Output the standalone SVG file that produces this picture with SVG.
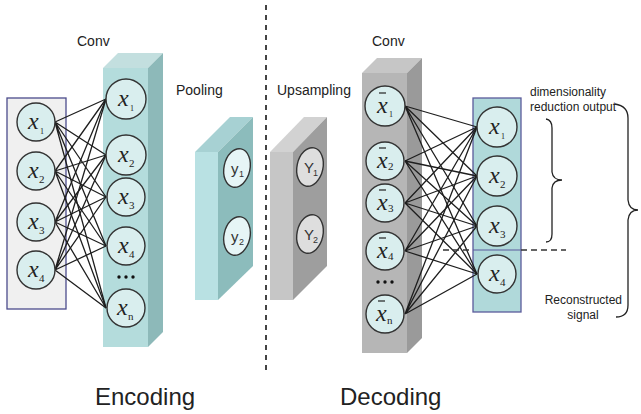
<svg xmlns="http://www.w3.org/2000/svg" width="641" height="414" viewBox="0 0 641 414">
<defs>
<style>
.lbl{font-family:"Liberation Sans",Arial,sans-serif;fill:#222}
.big{font-size:24px}
.sm{font-size:12px}
.md{font-size:14px}
.nd{fill:#d9eeee;stroke:#333;stroke-width:1.4}
.xv{font-family:"Liberation Serif","Times New Roman",serif;font-style:italic;font-size:24px;fill:#222}
.sb{font-family:"Liberation Serif",serif;font-size:11px;fill:#222}
.sb1{font-family:"Liberation Serif",serif;font-size:8px;fill:#222}
.yv{font-family:"Liberation Sans",sans-serif;font-size:15px;fill:#333}
.ys{font-family:"Liberation Sans",sans-serif;font-size:9px;fill:#333}
.bar{stroke:#222;stroke-width:1.2}
.cn{stroke:#1e1e1e;stroke-width:1.3;fill:none}
.dot{fill:#111}
.brace{fill:none;stroke:#222;stroke-width:1.3}
</style>
</defs>
<rect width="641" height="414" fill="#ffffff"/>

<!-- divider -->
<line x1="266" y1="5" x2="266" y2="373" stroke="#444" stroke-width="2" stroke-dasharray="5 5"/>

<!-- input box -->
<g id="input-layer">
<rect x="7" y="98" width="59" height="211" fill="#f0f0f0" stroke="#4c4c8c" stroke-width="1.3"/>
</g>

<!-- encoder conv block -->
<g id="enc-conv-block">
<polygon points="103,68 118,53 163,53 148,68" fill="#c3dfdf"/>
<polygon points="148,68 163,53 163,332 148,347" fill="#8db9b9"/>
<rect x="103" y="68" width="45" height="279" fill="#b4dcdc"/>
</g>

<!-- decoder conv block -->
<g id="dec-conv-block">
<polygon points="362,73 377,58 422,58 407,73" fill="#c6c6c6"/>
<polygon points="407,73 422,58 422,338 407,353" fill="#9a9a9a"/>
<rect x="362" y="73" width="45" height="280" fill="#b6b6b6"/>
</g>

<!-- output box -->
<g id="output-layer">
<rect x="473" y="98" width="48" height="214" fill="#b0d9da" stroke="#5b5b9b" stroke-width="1.3"/>
<line x1="473" y1="250" x2="521" y2="250" stroke="#5b5b9b" stroke-width="1.2"/>
</g>

<!-- connectors -->
<g id="connectors">
<g class="cn">
<path d="M55,122L106,99M55,122L106,155M55,122L106,197M55,122L106,246M55,122L106,308"/>
<path d="M55,171L106,99M55,171L106,155M55,171L106,197M55,171L106,246M55,171L106,308"/>
<path d="M55,222L106,99M55,222L106,155M55,222L106,197M55,222L106,246M55,222L106,308"/>
<path d="M55,270L106,99M55,270L106,155M55,270L106,197M55,270L106,246M55,270L106,308"/>
<path d="M405,106L477,127M405,106L477,176M405,106L477,226M405,106L477,274"/>
<path d="M405,161L477,127M405,161L477,176M405,161L477,226M405,161L477,274"/>
<path d="M405,203L477,127M405,203L477,176M405,203L477,226M405,203L477,274"/>
<path d="M405,251L477,127M405,251L477,176M405,251L477,226M405,251L477,274"/>
<path d="M405,314L477,127M405,314L477,176M405,314L477,226M405,314L477,274"/>
</g>
<line x1="443" y1="250" x2="473" y2="250" stroke="#333" stroke-width="1.4" stroke-dasharray="6 4"/>
<line x1="521" y1="250" x2="566" y2="250" stroke="#333" stroke-width="1.4" stroke-dasharray="6 4"/>
</g>

<!-- input nodes -->
<g id="in-x1"><circle class="nd" cx="36" cy="122" r="19"/><text class="xv" x="28" y="129">x</text><text class="sb1" x="40" y="134">1</text></g>
<g id="in-x2"><circle class="nd" cx="36" cy="171" r="19"/><text class="xv" x="28" y="178">x</text><text class="sb" x="39" y="183">2</text></g>
<g id="in-x3"><circle class="nd" cx="36" cy="222" r="19"/><text class="xv" x="28" y="229">x</text><text class="sb" x="39" y="234">3</text></g>
<g id="in-x4"><circle class="nd" cx="36" cy="270" r="19"/><text class="xv" x="28" y="277">x</text><text class="sb" x="39" y="282">4</text></g>

<!-- encoder conv nodes -->
<g id="enc-x1"><circle class="nd" cx="126" cy="99" r="20"/><text class="xv" x="118" y="106">x</text><text class="sb1" x="130" y="111">1</text></g>
<g id="enc-x2"><circle class="nd" cx="126" cy="155" r="20"/><text class="xv" x="118" y="162">x</text><text class="sb" x="129" y="167">2</text></g>
<g id="enc-x3"><circle class="nd" cx="126" cy="197" r="19"/><text class="xv" x="118" y="204">x</text><text class="sb" x="129" y="209">3</text></g>
<g id="enc-x4"><circle class="nd" cx="126" cy="246" r="19"/><text class="xv" x="118" y="253">x</text><text class="sb" x="129" y="258">4</text></g>
<g id="enc-dots"><circle class="dot" cx="119" cy="277" r="1.7"/><circle class="dot" cx="126" cy="277" r="1.7"/><circle class="dot" cx="133" cy="277" r="1.7"/></g>
<g id="enc-xn"><circle class="nd" cx="126" cy="308" r="19"/><text class="xv" x="117" y="315">x</text><text class="sb" x="128" y="320">n</text></g>

<!-- pooling block -->
<g id="pooling">
<polygon points="195,152 230,117 253,117 218,152" fill="#a7d1d3"/>
<polygon points="218,152 253,117 253,266 218,300" fill="#8cbcbc"/>
<rect x="195" y="152" width="23" height="148" fill="#b9e1e3"/>
<ellipse cx="237" cy="168" rx="13" ry="19.5" transform="rotate(12 237 168)" fill="#e6f5f6" stroke="#333" stroke-width="1.4"/>
<text class="yv" x="231" y="174">y</text><text class="ys" x="239" y="177">1</text>
<ellipse cx="237" cy="236" rx="13" ry="19.5" transform="rotate(12 237 236)" fill="#e6f5f6" stroke="#333" stroke-width="1.4"/>
<text class="yv" x="231" y="242">y</text><text class="ys" x="239" y="245">2</text>
</g>

<!-- upsampling block -->
<g id="upsampling">
<polygon points="270,152 304,117 327,117 293,152" fill="#d2d2d2"/>
<polygon points="293,152 327,117 327,266 293,300" fill="#9e9e9e"/>
<rect x="270" y="152" width="23" height="148" fill="#c6c6c6"/>
<ellipse cx="310" cy="167" rx="13" ry="19.5" transform="rotate(12 310 167)" fill="#dedede" stroke="#333" stroke-width="1.4"/>
<text class="yv" x="304" y="173">Y</text><text class="ys" x="313" y="176">1</text>
<ellipse cx="310" cy="234" rx="13" ry="19.5" transform="rotate(12 310 234)" fill="#dedede" stroke="#333" stroke-width="1.4"/>
<text class="yv" x="304" y="240">Y</text><text class="ys" x="313" y="243">2</text>
</g>

<!-- decoder conv nodes -->
<g id="dec-x1"><circle class="nd" cx="385" cy="106" r="20"/><line class="bar" x1="379" y1="93" x2="386" y2="93"/><text class="xv" x="377" y="113">x</text><text class="sb1" x="389" y="117">1</text></g>
<g id="dec-x2"><circle class="nd" cx="385" cy="161" r="19"/><line class="bar" x1="379" y1="148" x2="386" y2="148"/><text class="xv" x="377" y="168">x</text><text class="sb" x="388" y="170">2</text></g>
<g id="dec-x3"><circle class="nd" cx="385" cy="203" r="19"/><line class="bar" x1="379" y1="190" x2="386" y2="190"/><text class="xv" x="377" y="210">x</text><text class="sb" x="388" y="212">3</text></g>
<g id="dec-x4"><circle class="nd" cx="385" cy="251" r="19"/><line class="bar" x1="379" y1="238" x2="386" y2="238"/><text class="xv" x="377" y="258">x</text><text class="sb" x="388" y="260">4</text></g>
<g id="dec-dots"><circle class="dot" cx="378" cy="282" r="1.7"/><circle class="dot" cx="385" cy="282" r="1.7"/><circle class="dot" cx="392" cy="282" r="1.7"/></g>
<g id="dec-xn"><circle class="nd" cx="385" cy="314" r="19"/><line class="bar" x1="378" y1="301" x2="385" y2="301"/><text class="xv" x="376" y="321">x</text><text class="sb" x="387" y="324">n</text></g>

<!-- output nodes -->
<g id="out-x1"><circle class="nd" cx="497" cy="127" r="20"/><text class="xv" x="489" y="134">x</text><text class="sb1" x="501" y="139">1</text></g>
<g id="out-x2"><circle class="nd" cx="497" cy="176" r="20"/><text class="xv" x="489" y="183">x</text><text class="sb" x="500" y="188">2</text></g>
<g id="out-x3"><circle class="nd" cx="497" cy="226" r="20"/><text class="xv" x="489" y="233">x</text><text class="sb" x="500" y="238">3</text></g>
<g id="out-x4"><circle class="nd" cx="497" cy="274" r="19"/><text class="xv" x="489" y="281">x</text><text class="sb" x="500" y="286">4</text></g>

<!-- braces -->
<g id="brace-small"><path class="brace" d="M546,119 Q552,120 552,128 L552,172 Q553,180 562,180 Q553,180 552,188 L552,234 Q552,242 546,242"/></g>
<g id="brace-big"><path class="brace" d="M615,104 Q628,106 628,118 L628,200 Q629,210 638,210 Q629,210 628,220 L628,305 Q628,317 616,317"/></g>

<!-- labels -->
<g id="labels">
<text class="lbl md" x="77" y="46">Conv</text>
<text class="lbl md" x="372" y="46">Conv</text>
<text class="lbl md" x="176" y="95">Pooling</text>
<text class="lbl md" x="277" y="95">Upsampling</text>
<text class="lbl sm" x="530" y="96">dimensionality</text>
<text class="lbl sm" x="530" y="111">reduction output</text>
<text class="lbl sm" x="622" y="304" text-anchor="end">Reconstructed</text>
<text class="lbl sm" x="583" y="319" text-anchor="middle">signal</text>
<text class="lbl big" x="95" y="405">Encoding</text>
<text class="lbl big" x="340" y="405">Decoding</text>
</g>
</svg>
